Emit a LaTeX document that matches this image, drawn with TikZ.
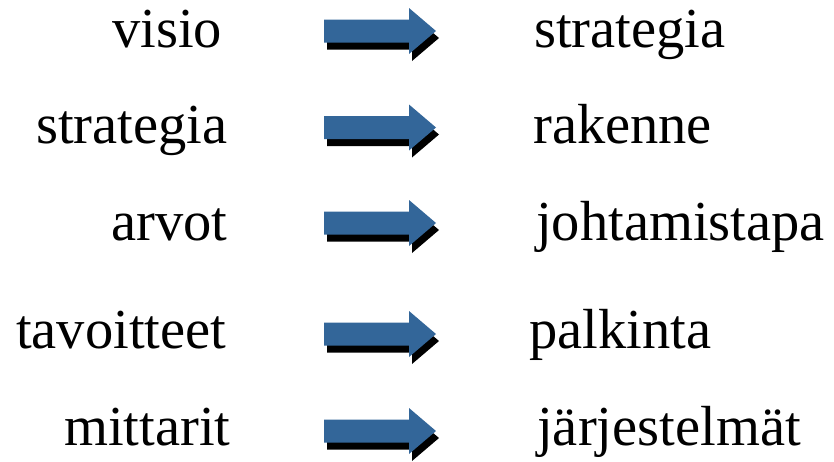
\documentclass[tikz,border=0pt]{standalone}
\usepackage{fontspec}
\setmainfont{Liberation Serif}
\definecolor{arrowblue}{RGB}{51,102,153}
\tikzset{
  word/.style={anchor=base west, inner sep=0pt, font=\fontsize{56.5}{60}\selectfont},
  % block arrow with a black drop shadow; origin at the arrow's tail, middle height
  pics/blockarrow/.style={code={
    \fill[black] (3,7) ++(0,-11.5) -- ++(85,0) -- ++(0,-11.5) -- ++(27,23) -- ++(-27,23) -- ++(0,-11.5) -- ++(-85,0) -- cycle;
    \fill[arrowblue] (0,-11.5) -- (85,-11.5) -- (85,-23) -- (112,0) -- (85,23) -- (85,11.5) -- (0,11.5) -- cycle;
  }}
}
\begin{document}
\begin{tikzpicture}[x=1pt,y=-1pt]
\useasboundingbox (0,0) rectangle (834,461);
\fill[white] (0,0) rectangle (834,461);

% left column
\node[word] (l1) at (112,47)  {visio};
\node[word] (l2) at (36,143)  {strategia};
\node[word] (l3) at (111,240) {arvot};
\node[word] (l4) at (16,348)  {tavoitteet};
\node[word] (l5) at (64,445)  {mittarit};

% right column
\node[word] (r1) at (534,47)  {strategia};
\node[word] (r2) at (533,143) {rakenne};
\node[word] (r3) at (536,240) {johtamistapa};
\node[word] (r4) at (529,348) {palkinta};
\node[word] (r5) at (537,445) {järjestelmät};

% arrows between the columns
\pic at (324,31)    {blockarrow};
\pic at (324,127.5) {blockarrow};
\pic at (324,223)   {blockarrow};
\pic at (324,334)   {blockarrow};
\pic at (324,431)   {blockarrow};
\end{tikzpicture}
\end{document}
